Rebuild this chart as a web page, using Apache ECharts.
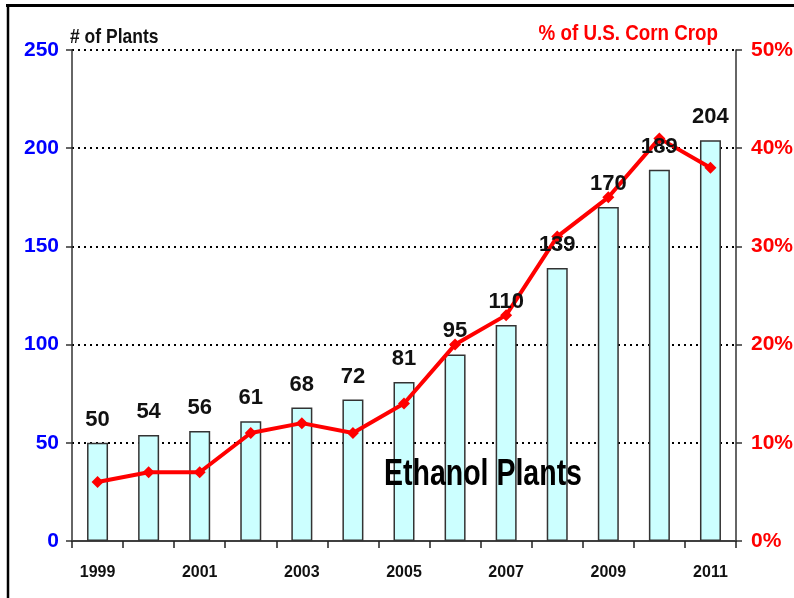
<!DOCTYPE html>
<html>
<head>
<meta charset="utf-8">
<script src="https://cdn.jsdelivr.net/npm/echarts@6/dist/echarts.min.js"></script>
<style>
  html, body { margin: 0; padding: 0; background: #fff; }
  #chart { width: 794px; height: 598px; }
</style>
</head>
<body>
<div id="chart"></div>
<script>
// 年份
const years = ['1999', '2000', '2001', '2002', '2003', '2004', '2005', '2006', '2007', '2008', '2009', '2010', '2011']
// 工厂数量
const plants = [50, 54, 56, 61, 68, 72, 81, 95, 110, 139, 170, 189, 204]
// 占美国玉米产量百分比
const cornShare = [6, 7, 7, 11, 12, 11, 14, 20, 23, 31, 35, 41, 38]

const FONT = '"Liberation Sans", Arial, sans-serif'

const chart = echarts.init(document.getElementById('chart'))
const option = {
  animation: false,
  backgroundColor: '#fff',
  grid: {
    left: 72,
    right: 58,
    top: 50,
    bottom: 57,
    containLabel: false,
    outerBoundsMode: 'none'
  },
  xAxis: {
    type: 'category',
    data: years,
    boundaryGap: true,
    axisLine: { lineStyle: { color: '#404040', width: 2 } },
    axisTick: { show: true, length: 7, interval: 0, lineStyle: { color: '#222', width: 1.5 } },
    axisLabel: {
      interval: 1,
      margin: 24,
      color: '#111',
      fontFamily: FONT,
      fontWeight: 'bold',
      fontSize: 16
    },
    splitLine: { show: false }
  },
  yAxis: [
    {
      type: 'value',
      min: 0,
      max: 250,
      interval: 50,
      axisLine: { show: true, lineStyle: { color: '#333', width: 1.5 } },
      axisTick: { show: true, length: 6, lineStyle: { color: '#333', width: 1.5 } },
      axisLabel: {
        margin: 13,
        color: '#0000FF',
        fontFamily: FONT,
        fontWeight: 'bold',
        fontSize: 21
      },
      splitLine: { show: true, lineStyle: { color: '#000', width: 2, type: [2, 4] } }
    },
    {
      type: 'value',
      min: 0,
      max: 50,
      interval: 10,
      position: 'right',
      axisLine: { show: true, lineStyle: { color: '#333', width: 1.5 } },
      axisTick: { show: true, length: 6, lineStyle: { color: '#333', width: 1.5 } },
      axisLabel: {
        margin: 15,
        formatter: '{value}%',
        color: '#FF0000',
        fontFamily: FONT,
        fontWeight: 'bold',
        fontSize: 21
      },
      splitLine: { show: false }
    }
  ],
  series: [
    {
      name: '# of Plants',
      type: 'bar',
      data: plants,
      barWidth: 21,
      z: 2,
      itemStyle: { color: '#CCFFFF', borderColor: '#333', borderWidth: 1.5 }
    },
    {
      name: '% of U.S. Corn Crop',
      type: 'line',
      yAxisIndex: 1,
      data: cornShare,
      z: 3,
      symbol: 'diamond',
      symbolSize: 12,
      lineStyle: { color: '#FF0000', width: 4 },
      itemStyle: { color: '#FF0000' }
    },
    {
      // 标签层，放在折线上面
      name: 'labels',
      type: 'bar',
      data: plants,
      barWidth: 21,
      barGap: '-100%',
      z: 4,
      silent: true,
      itemStyle: { color: 'rgba(0,0,0,0)' },
      label: {
        show: true,
        position: 'top',
        distance: 12,
        color: '#111',
        fontFamily: FONT,
        fontWeight: 'bold',
        fontSize: 22
      }
    }
  ],
  graphic: [
    { type: 'line', shape: { x1: 6, y1: 5.5, x2: 794, y2: 5.5 }, style: { stroke: '#000', lineWidth: 3 } },
    { type: 'line', shape: { x1: 8, y1: 4, x2: 8, y2: 598 }, style: { stroke: '#000', lineWidth: 2.5 } },
    {
      type: 'text',
      x: 70,
      y: 37,
      scaleY: 1.2,
      style: {
        text: '# of Plants',
        fill: '#111',
        font: 'bold 17.5px ' + FONT,
        textAlign: 'left',
        textVerticalAlign: 'middle'
      }
    },
    {
      type: 'text',
      x: 718,
      y: 34,
      scaleY: 1.22,
      style: {
        text: '% of U.S. Corn Crop',
        fill: '#FF0000',
        font: 'bold 18.8px ' + FONT,
        textAlign: 'right',
        textVerticalAlign: 'middle'
      }
    },
    {
      type: 'text',
      x: 483,
      y: 475,
      z: 10,
      scaleY: 1.28,
      style: {
        text: 'Ethanol Plants',
        fill: '#000',
        font: 'bold 28.5px ' + FONT,
        textAlign: 'center',
        textVerticalAlign: 'middle'
      }
    }
  ]
}
chart.setOption(option)
</script>
</body>
</html>
